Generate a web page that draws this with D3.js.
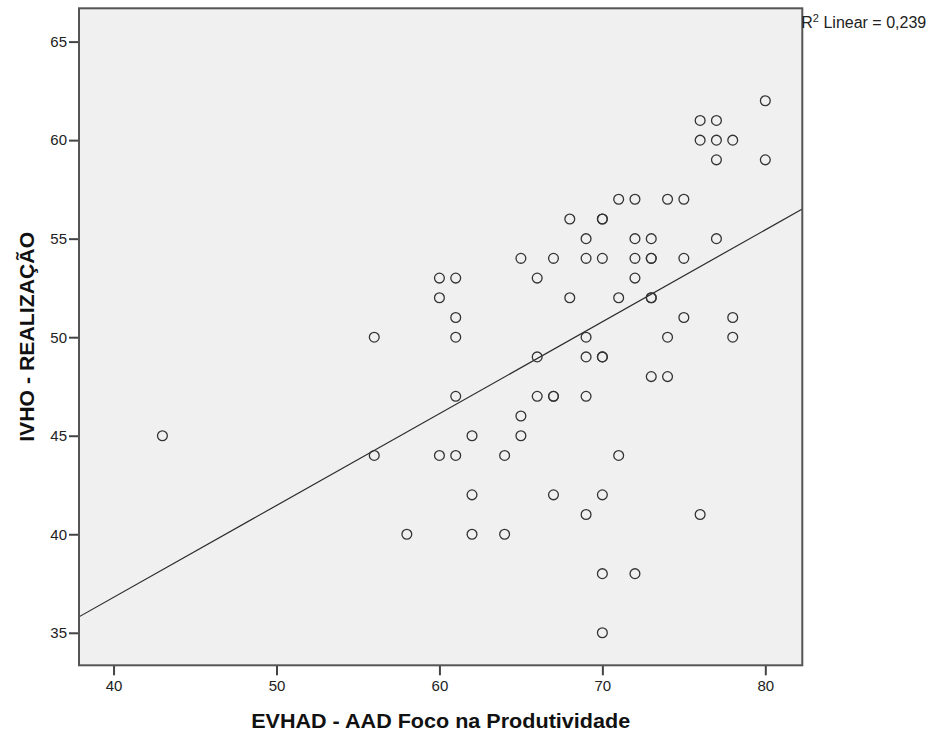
<!DOCTYPE html>
<html>
<head>
<meta charset="utf-8">
<script src="https://cdn.jsdelivr.net/npm/d3@7"></script>
<style>
  body { margin: 0; background: #fff; }
  svg { display: block; font-family: "Liberation Sans", Arial, sans-serif; }
</style>
</head>
<body>
<div id="chart"></div>
<script>
// EVHAD - AAD Foco na Produtividade (x) vs IVHO - REALIZAÇÃO (y), one entry per case
const focoProdutividade = [
  43, 56, 56, 58, 60, 60, 60, 61, 61, 61, 61, 61, 62, 62, 62, 64, 64,
  65, 65, 65, 66, 66, 66, 67, 67, 67, 67, 68, 68,
  69, 69, 69, 69, 69, 69, 70, 70, 70, 70, 70, 70, 70, 70,
  71, 71, 71, 72, 72, 72, 72, 72, 73, 73, 73, 73, 73, 73,
  74, 74, 74, 75, 75, 75, 76, 76, 76, 77, 77, 77, 77, 78, 78, 78, 80, 80
];
const realizacao = [
  45, 50, 44, 40, 53, 52, 44, 53, 51, 50, 47, 44, 45, 42, 40, 44, 40,
  54, 46, 45, 53, 49, 47, 54, 47, 47, 42, 56, 52,
  55, 54, 50, 49, 47, 41, 56, 56, 54, 49, 49, 42, 38, 35,
  57, 52, 44, 57, 55, 54, 53, 38, 55, 54, 54, 52, 52, 48,
  57, 50, 48, 57, 54, 51, 61, 60, 41, 61, 60, 59, 55, 60, 51, 50, 62, 59
];
const xTicks = [40, 50, 60, 70, 80];
const yTicks = [35, 40, 45, 50, 55, 60, 65];
const xTitle = 'EVHAD - AAD Foco na Produtividade';
const yTitle = 'IVHO - REALIZAÇÃO';
const fitLabel = {name: ' Linear = 0,239'};

const totalWidth = 934, totalHeight = 733;
const margins = {top: 8.3, left: 79, right: 131.7, bottom: 67.7};
const width = totalWidth - margins.left - margins.right;
const height = totalHeight - margins.top - margins.bottom;

const svg = d3.select('#chart').append('svg')
  .attr('width', totalWidth)
  .attr('height', totalHeight);

const xScale = d3.scaleLinear().domain([37.88, 82.27]).range([0, width]);
const yScale = d3.scaleLinear().domain([33.35, 66.69]).range([height, 0]);

const plot = svg.append('g')
  .attr('transform', 'translate(' + [margins.left, margins.top] + ')');

// plot background
plot.append('rect')
  .attr('width', width)
  .attr('height', height)
  .style('fill', '#f0f0f0');

const clip = svg.append('clipPath').attr('id', 'plot-clip');
clip.append('rect').attr('width', width).attr('height', height);

// least squares fit line
const points = focoProdutividade.map((x, i) => ({x: x, y: realizacao[i]}));
const xMean = d3.mean(points, d => d.x), yMean = d3.mean(points, d => d.y);
const slope = d3.sum(points, d => (d.x - xMean) * (d.y - yMean)) / d3.sum(points, d => (d.x - xMean) ** 2);
const intercept = yMean - slope * xMean;
const xDom = xScale.domain();

plot.append('line')
  .attr('clip-path', 'url(#plot-clip)')
  .attr('x1', xScale(xDom[0]))
  .attr('y1', yScale(intercept + slope * xDom[0]))
  .attr('x2', xScale(xDom[1]))
  .attr('y2', yScale(intercept + slope * xDom[1]))
  .style('stroke', '#2b2b2b')
  .style('stroke-width', 1.2);

// markers
plot.selectAll('circle.case')
  .data(points)
  .enter()
  .append('circle')
  .attr('class', 'case')
  .attr('cx', d => xScale(d.x))
  .attr('cy', d => yScale(d.y))
  .attr('r', 4.9)
  .style('fill', 'none')
  .style('stroke', '#333')
  .style('stroke-width', 1.3);

// axes
const xAxis = d3.axisBottom(xScale).tickValues(xTicks).tickSize(10).tickPadding(4).tickSizeOuter(0);
const yAxis = d3.axisLeft(yScale).tickValues(yTicks).tickSize(10).tickPadding(2).tickSizeOuter(0);

const gx = plot.append('g')
  .attr('transform', 'translate(' + [0, height] + ')')
  .call(xAxis);
const gy = plot.append('g').call(yAxis);

[gx, gy].forEach(g => {
  g.select('.domain').remove();
  g.selectAll('.tick line').style('stroke', '#444').style('stroke-width', 2);
  g.selectAll('.tick text')
    .style('font-size', '15px')
    .style('fill', '#222')
    .style('font-family', '"Liberation Sans", Arial, sans-serif');
});
gx.selectAll('.tick text').attr('dy', '0.75em');

// frame
plot.append('rect')
  .attr('width', width)
  .attr('height', height)
  .style('fill', 'none')
  .style('stroke', '#555')
  .style('stroke-width', 2);

// axis titles
svg.append('text')
  .attr('x', margins.left + width / 2)
  .attr('y', 728)
  .attr('text-anchor', 'middle')
  .attr('textLength', 379)
  .attr('lengthAdjust', 'spacingAndGlyphs')
  .style('font-size', '21px')
  .style('font-weight', 'bold')
  .style('fill', '#111')
  .text(xTitle);

svg.append('text')
  .attr('transform', 'translate(' + [34.3, margins.top + height / 2] + ') rotate(-90)')
  .attr('text-anchor', 'middle')
  .attr('textLength', 210)
  .attr('lengthAdjust', 'spacingAndGlyphs')
  .style('font-size', '21px')
  .style('font-weight', 'bold')
  .style('fill', '#111')
  .text(yTitle);

// fit annotation
const note = svg.append('text')
  .attr('x', margins.left + width - 1)
  .attr('y', 28)
  .style('font-size', '16px')
  .style('fill', '#222');
note.append('tspan').text('R');
note.append('tspan').attr('dy', -6).style('font-size', '11px').text('2');
note.append('tspan').attr('dy', 6).text(fitLabel.name);
</script>
</body>
</html>
